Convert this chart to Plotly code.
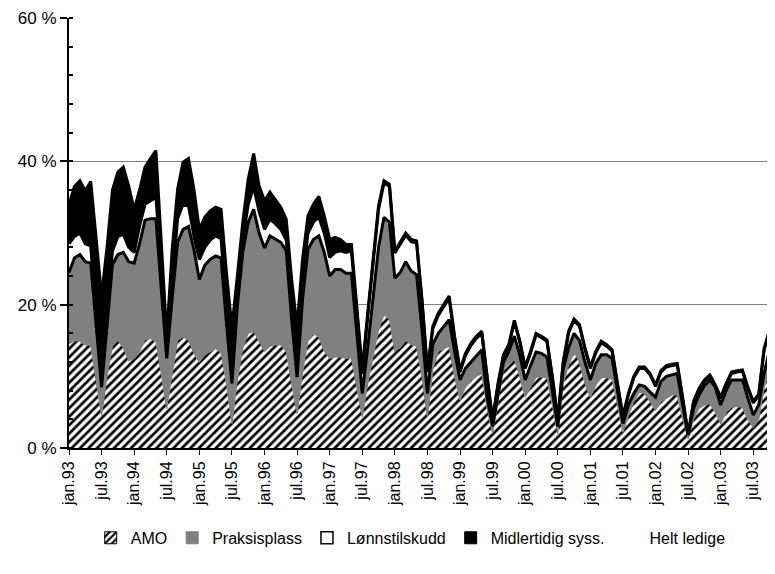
import plotly.graph_objects as go

month_names = ["jan", "feb", "mar", "apr", "mai", "jun", "jul", "aug", "sep", "okt", "nov", "des"]
years = ["93", "94", "95", "96", "97", "98", "99", "00", "01", "02", "03"]
months = [f"{m}.{y}" for y in years for m in month_names][:131]
tick_labels = [m for m in months if m.startswith("jan") or m.startswith("jul")]
y_ticks = [0, 20, 40, 60]

amo = [14.5, 15, 14.9, 14.4, 14.3, 9.5, 4.5, 10, 14.3, 15, 14, 12.2,
       12.5, 13.5, 15.1, 15.3, 14.9, 10.4, 5.5, 10.4, 15.1, 15.5, 15.1, 13.2,
       12, 13, 13.5, 13.9, 13.3, 9, 3.4, 9.5, 14, 16, 16.3, 15,
       13.5, 14.2, 14.4, 14.4, 13.5, 9, 4.8, 10.5, 15, 16, 15.5, 13.5,
       12.5, 12.7, 12.7, 12.5, 12.6, 8.5, 4.3, 9, 13, 16.5, 18.6, 18,
       13.5, 14, 15.1, 14.4, 14.2, 10, 4.3, 11, 13.5, 13.8, 14.2, 10,
       6.7, 8.5, 9.5, 10, 10.4, 5.5, 2, 6.5, 11, 11.8, 12.4, 10,
       7.1, 8.5, 9.9, 9.9, 9.8, 6, 2, 9, 11.6, 13.4, 12, 9,
       7.1, 8.8, 9.9, 9.8, 9.6, 6, 2.2, 4.5, 6.5, 7.8, 7.6, 6.5,
       5.3, 6.5, 7, 7.4, 7.4, 4, 1.3, 4, 5.5, 6, 6.2, 5,
       3.4, 5, 5.7, 5.8, 5.7, 4, 2.9, 4, 8.5, 10.5, 11.5]

praksisplass = [10.0, 11.5, 12.1, 11.6, 11.5, 7.9, 4.0, 7.0, 11.3, 12.0, 13.3, 13.8,
                13.3, 15.0, 16.7, 16.7, 17.1, 11.7, 7.0, 10.5, 13.6, 15.0, 15.8, 14.5,
                11.5, 12.5, 12.8, 12.9, 13.2, 8.4, 5.6, 10.3, 13.3, 15.5, 17.0, 15.0,
                14.4, 15.4, 14.7, 14.3, 14.0, 8.9, 5.1, 10.2, 12.7, 13.1, 14.1, 13.8,
                11.5, 12.2, 12.2, 11.9, 11.8, 7.5, 3.3, 5.0, 8.0, 11.5, 13.6, 13.5,
                10.2, 10.5, 10.9, 10.3, 10.0, 6.5, 3.3, 3.5, 2.5, 3.2, 3.7, 3.5,
                2.8, 2.6, 2.5, 2.8, 3.3, 1.5, 1.0, 1.0, 1.0, 1.7, 3.2, 3.0,
                2.4, 3.0, 3.5, 3.3, 2.9, 2.0, 1.0, 2.0, 2.4, 2.6, 3.0, 3.0,
                2.4, 3.0, 3.1, 3.2, 2.9, 2.0, 1.2, 1.5, 1.1, 1.0, 1.0, 1.3,
                1.8, 2.8, 3.0, 2.8, 3.0, 2.0, 0.5, 1.5, 1.9, 2.7, 3.3, 3.5,
                2.6, 3.0, 3.8, 3.7, 3.8, 3.0, 1.7, 2.0, 1.9, 3.2, 3.6]

lonnstilskudd = [4.0, 3.0, 3.0, 2.5, 2.4, 0.6, 1.0, 1.0, 1.9, 2.5, 2.5, 2.0,
                 1.5, 2.5, 2.2, 2.5, 3.0, 2.9, 1.0, 2.1, 3.3, 3.5, 2.9, 1.9,
                 2.8, 2.5, 2.7, 2.8, 2.7, 1.6, 1.0, 1.2, 1.7, 2.5, 3.1, 3.0,
                 2.6, 2.3, 2.2, 1.8, 1.5, 1.6, 1.1, 2.3, 2.3, 2.4, 2.6, 2.7,
                 2.6, 2.4, 2.6, 2.9, 3.1, 3.0, 2.7, 4.3, 5.3, 5.3, 4.8, 5.0,
                 3.5, 3.9, 3.7, 4.1, 4.4, 3.9, 3.0, 2.2, 2.5, 2.7, 3.0, 1.8,
                 1.1, 1.8, 2.3, 2.5, 2.3, 2.7, 0.8, 1.3, 0.8, 0.8, 2.0, 1.8,
                 1.6, 1.8, 2.4, 2.2, 2.2, 1.8, 0.8, 0.8, 2.1, 1.8, 2.0, 1.8,
                 1.6, 1.5, 1.7, 1.2, 1.0, 0.8, 0.9, 1.4, 2.2, 2.3, 2.5, 2.4,
                 1.5, 1.3, 1.3, 1.3, 1.2, 0.8, 0.1, 0.8, 0.7, 0.6, 0.5, 0.1,
                 0.9, 0.8, 0.9, 1.1, 1.2, 1.3, 1.7, 1.3, 3.3, 2.6, 2.4]

midlertidig = [5.5, 7.0, 7.3, 7.4, 9.0, 11.0, 11.7, 10.0, 8.5, 9.0, 9.4, 8.5,
               6.0, 5.0, 5.2, 5.9, 6.5, 3.6, 2.0, 4.7, 4.1, 5.9, 6.6, 6.5,
               4.2, 4.2, 4.1, 4.0, 4.1, 5.4, 6.8, 3.0, 2.5, 3.5, 4.7, 3.6,
               4.0, 3.8, 3.4, 3.1, 2.9, 4.0, 5.9, 3.3, 2.4, 2.5, 2.9, 2.4,
               2.5, 2.1, 1.6, 1.1, 0.9, 0.8, 0.6, 0.5, 0.5, 0.5, 0.3, 0.3,
               0.3, 0.3, 0.3, 0.3, 0.3, 0.3, 0.3, 0.3, 0.3, 0.3, 0.3, 0.3,
               0.3, 0.3, 0.3, 0.3, 0.3, 0.3, 0.2, 0.2, 0.2, 0.2, 0.2, 0.2,
               0.2, 0.2, 0.2, 0.2, 0.2, 0.2, 0.2, 0.2, 0.2, 0.2, 0.2, 0.2,
               0.2, 0.2, 0.2, 0.2, 0.2, 0.2, 0.2, 0.2, 0.2, 0.2, 0.2, 0.2,
               0.2, 0.2, 0.2, 0.2, 0.2, 0.2, 0.1, 0.2, 0.2, 0.2, 0.2, 0.2,
               0.2, 0.2, 0.2, 0.2, 0.2, 0.2, 0.2, 0.2, 0.2, 0.2, 0.2]

FONT = "Liberation Sans, Arial, sans-serif"
HATCH = dict(shape="/", size=6, solidity=0.45, fgcolor="black", bgcolor="white", fgopacity=1)

fig = go.Figure()
# stacked areas (drawn)
fig.add_trace(go.Scatter(
    x=months, y=amo, name="AMO", stackgroup="s", mode="lines",
    line=dict(color="#808080", width=1.2),
    fillcolor="white", fillpattern=HATCH, showlegend=False,
))
fig.add_trace(go.Scatter(
    x=months, y=praksisplass, name="Praksisplass", stackgroup="s", mode="lines",
    line=dict(color="black", width=3), fillcolor="#808080", showlegend=False,
))
fig.add_trace(go.Scatter(
    x=months, y=lonnstilskudd, name="Lønnstilskudd", stackgroup="s", mode="lines",
    line=dict(color="black", width=3), fillcolor="white", showlegend=False,
))
fig.add_trace(go.Scatter(
    x=months, y=midlertidig, name="Midlertidig syss.", stackgroup="s", mode="lines",
    line=dict(color="black", width=3), fillcolor="black", showlegend=False,
))

# legend entries (square swatches)
legend_items = [
    ("AMO", dict(color="white", pattern=HATCH, line=dict(color="black", width=1))),
    ("Praksisplass", dict(color="#808080", line=dict(color="#808080", width=1))),
    ("Lønnstilskudd", dict(color="white", line=dict(color="black", width=1.5))),
    ("Midlertidig syss.", dict(color="black", line=dict(color="black", width=1))),
    ("Helt ledige", dict(color="rgba(0,0,0,0)", line=dict(color="rgba(0,0,0,0)", width=0))),
]
for name, marker in legend_items:
    fig.add_trace(go.Bar(x=[months[0]], y=[None], name=name, marker=marker,
                         showlegend=True, hoverinfo="skip"))

# the page body adds an 8px offset, so the figure is 8px smaller than the window
fig.update_layout(
    width=767, height=566,
    margin=dict(l=61, r=0, t=10, b=126, autoexpand=False),
    plot_bgcolor="white", paper_bgcolor="white",
    font=dict(family=FONT, size=16, color="black"),
    showlegend=True,
    legend=dict(orientation="h", x=0.484, xanchor="center", y=-0.209, yanchor="middle",
                traceorder="normal", font=dict(size=16), itemwidth=30,
                bgcolor="rgba(0,0,0,0)"),
    xaxis=dict(
        type="category", range=[0, 130], automargin=False,
        tickmode="array", tickvals=tick_labels, ticktext=tick_labels,
        tickangle=-90, ticks="outside", ticklen=5, tickcolor="black", tickwidth=1,
        showline=True, linecolor="black", linewidth=2, showgrid=False,
        tickfont=dict(family=FONT, size=16),
    ),
    yaxis=dict(
        range=[0, 60], dtick=20, ticksuffix=" %", automargin=False,
        ticks="outside", ticklen=7, tickcolor="black", tickwidth=2,
        minor=dict(dtick=4, ticks="inside", ticklen=4, tickcolor="black", tickwidth=2),
        showline=True, linecolor="black", linewidth=2,
        showgrid=True, gridcolor="#808080", gridwidth=1, zeroline=False,
        tickfont=dict(family=FONT, size=17),
    ),
    # inner halves of the major y ticks (cross ticks)
    yaxis2=dict(overlaying="y", side="left", anchor="x", range=[0, 60],
                tickmode="array", tickvals=y_ticks, ticks="inside", ticklen=5,
                tickcolor="black", tickwidth=2, showticklabels=False,
                showgrid=False, showline=False, zeroline=False, automargin=False),
)

fig.write_html("out.html")
